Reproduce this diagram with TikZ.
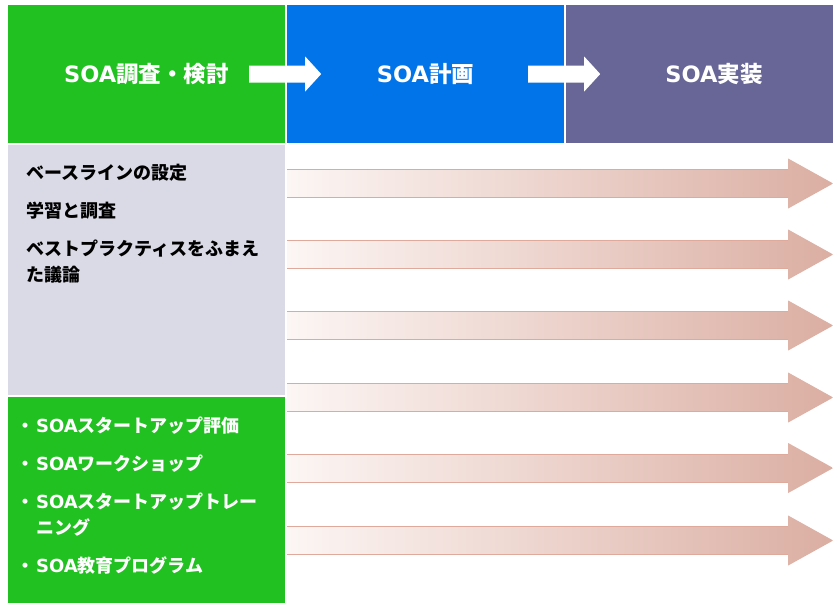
\documentclass[tikz,border=0pt]{standalone}
\usepackage{fontspec}
\setmainfont{Noto Sans CJK JP}
\newfontfamily\latfont{DejaVu Sans}
\newcommand\soa{{\latfont SOA}}
\usetikzlibrary{calc}
\definecolor{phasegreen}{HTML}{21C121}
\definecolor{phaseblue}{HTML}{0074E8}
\definecolor{phasepurple}{HTML}{676696}
\definecolor{basegray}{HTML}{DADAE6}
\definecolor{flowlight}{HTML}{FCF6F4}
\definecolor{flowdark}{HTML}{DBAEA2}
\definecolor{flowedge}{HTML}{DFAA9B}

\begin{document}
\begin{tikzpicture}[
  x=1pt, y=-1pt,
  phase/.style ={fill=#1,minimum width=277pt,minimum height=138pt,inner sep=0pt,
                 text=white,font=\bfseries\fontsize{22.5}{26}\selectfont},
  panel/.style ={fill=#1,minimum width=277pt,inner sep=0pt},
  sidetext/.style={align=left,inner sep=0pt,font=\bfseries\fontsize{18}{26}\selectfont},
  pics/phasearrow/.style={code={
    \fill[white] (0,-8.5) -- (56,-8.5) -- (56,-17.5) -- (72,0) -- (56,17.5) -- (56,8.5) -- (0,8.5) -- cycle;}},
  pics/flowarrow/.style={code={
    \shade[left color=flowlight,right color=flowdark]
      (0,-14) -- (501,-14) -- (501,-25) -- (546,0) -- (501,25) -- (501,14) -- (0,14) -- cycle;
    \draw[flowedge,line width=1pt] (0,-14) -- (501,-14) (0,14) -- (501,14);}}
]
\useasboundingbox (0,0) rectangle (833,603);
\clip (0,0) rectangle (833,603);

% ==================================================
% HEADER ROW (three phases)
% ==================================================
\node[phase=phasegreen] (survey) at (146.5,74) {\soa 調査・検討};
\node[phase=phaseblue]  (plan)   at (425.5,74) {\soa 計画};
\node[phase=phasepurple, minimum width=296pt] (impl) at (714,74) {\soa 実装};

% white arrows between phases
\pic at ($(survey.east)+(-36,0)$) {phasearrow};
\pic at ($(plan.east)+(-36,0)$)   {phasearrow};

% ==================================================
% LEFT COLUMN (baseline + education)
% ==================================================
\node[panel=basegray,    minimum height=250pt] (basebox) at (146.5,270) {};
\node[panel=phasegreen,  minimum height=206pt] (edubox)  at (146.5,500) {};

% base anchor sits on the last line
\node[sidetext, anchor=base west] (basetext) at (26,281)
  {ベースラインの設定\\[12pt]
   学習と調査\\[12pt]
   ベストプラクティスをふまえ\\
   た議論};

\node[sidetext, text=white, anchor=base west] (edutext) at (36,572)
  {\llap{・\hspace{2pt}}\soa スタートアップ評価\\[12pt]
   \llap{・\hspace{2pt}}\soa ワークショップ\\[12pt]
   \llap{・\hspace{2pt}}\soa スタートアップトレー\\
   ニング\\[12pt]
   \llap{・\hspace{2pt}}\soa 教育プログラム};

% ==================================================
% FLOW ARROWS (gradient, to the right edge)
% ==================================================
\foreach \y in {183.5,254.5,325.5,397.5,468,540.5}
  \pic at ($(basebox.east |- 0,\y)+(2,0)$) {flowarrow};

\end{tikzpicture}
\end{document}
